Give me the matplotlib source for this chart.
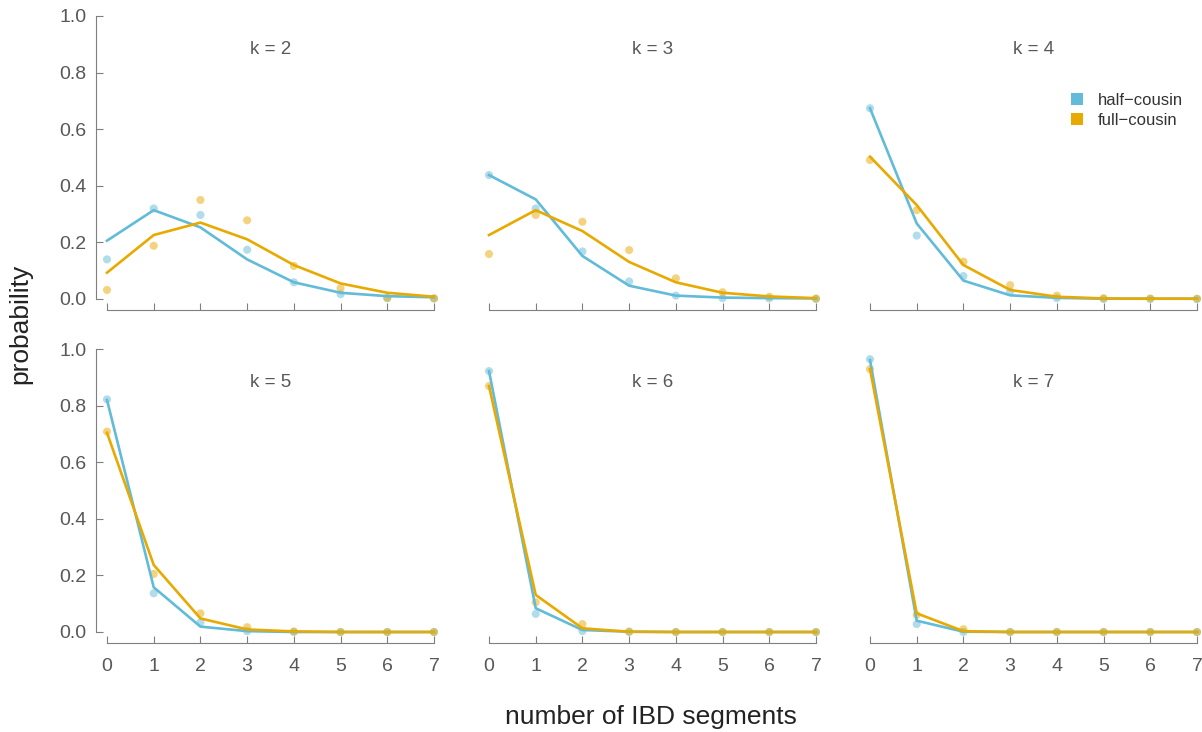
import matplotlib
matplotlib.use("Agg")
import matplotlib.pyplot as plt
from matplotlib.patches import Patch
import numpy as np

plt.rcParams["font.family"] = ["Liberation Sans", "DejaVu Sans"]

TEXT = "#585858"
SPINE = "#7f7f7f"
BLUE = "#62BBD8"
ORANGE = "#E8A900"

segments = [0, 1, 2, 3, 4, 5, 6, 7]
ks = [2, 3, 4, 5, 6, 7]

# model curves (lines)
half_line = {
    2: [0.206, 0.314, 0.253, 0.140, 0.059, 0.022, 0.010, 0.006],
    3: [0.438, 0.352, 0.152, 0.047, 0.012, 0.005, 0.003, 0.002],
    4: [0.674, 0.267, 0.065, 0.013, 0.004, 0.001, 0.001, 0.001],
    5: [0.820, 0.158, 0.019, 0.003, 0.000, 0.000, 0.000, 0.000],
    6: [0.922, 0.084, 0.007, 0.001, 0.000, 0.000, 0.000, 0.000],
    7: [0.961, 0.040, 0.001, 0.000, 0.000, 0.000, 0.000, 0.000],
}
full_line = {
    2: [0.093, 0.226, 0.270, 0.211, 0.120, 0.055, 0.022, 0.008],
    3: [0.226, 0.314, 0.240, 0.131, 0.059, 0.022, 0.009, 0.003],
    4: [0.503, 0.332, 0.120, 0.032, 0.008, 0.002, 0.001, 0.001],
    5: [0.704, 0.237, 0.048, 0.009, 0.002, 0.000, 0.000, 0.000],
    6: [0.869, 0.131, 0.013, 0.001, 0.000, 0.000, 0.000, 0.000],
    7: [0.929, 0.066, 0.003, 0.000, 0.000, 0.000, 0.000, 0.000],
}

# simulated values (dots)
half_sim = {
    2: [0.140, 0.320, 0.297, 0.174, 0.059, 0.017, 0.003, 0.002],
    3: [0.438, 0.320, 0.168, 0.062, 0.012, 0.003, 0.002, 0.000],
    4: [0.674, 0.224, 0.081, 0.026, 0.003, 0.000, 0.000, 0.000],
    5: [0.822, 0.137, 0.034, 0.003, 0.000, 0.000, 0.000, 0.000],
    6: [0.922, 0.064, 0.003, 0.000, 0.000, 0.000, 0.000, 0.000],
    7: [0.964, 0.028, 0.000, 0.000, 0.000, 0.000, 0.000, 0.000],
}
full_sim = {
    2: [0.032, 0.188, 0.350, 0.278, 0.117, 0.038, 0.004, 0.002],
    3: [0.159, 0.297, 0.273, 0.173, 0.073, 0.024, 0.008, 0.002],
    4: [0.491, 0.314, 0.132, 0.049, 0.012, 0.003, 0.002, 0.001],
    5: [0.708, 0.205, 0.066, 0.017, 0.002, 0.000, 0.000, 0.000],
    6: [0.869, 0.105, 0.028, 0.002, 0.000, 0.000, 0.000, 0.000],
    7: [0.929, 0.060, 0.010, 0.000, 0.000, 0.000, 0.000, 0.000],
}

W, H = 1202, 732
fig = plt.figure(figsize=(W / 100, H / 100), dpi=100)

col_left = [107, 489, 870]
col_w = 327
row_zero = [299, 632]
row_h = 283
OFFSET = 8  # points, ~11 px

for i, k in enumerate(ks):
    r, c = divmod(i, 3)
    ax = fig.add_axes([col_left[c] / W, 1 - row_zero[r] / H, col_w / W, row_h / H])
    ax.set_xlim(0, 7)
    ax.set_ylim(0, 1)
    ax.patch.set_visible(False)

    ax.scatter(segments, half_sim[k], s=34, color=BLUE, alpha=0.5,
               edgecolors="none", clip_on=False, zorder=2)
    ax.scatter(segments, full_sim[k], s=34, color=ORANGE, alpha=0.5,
               edgecolors="none", clip_on=False, zorder=2)
    ax.plot(segments, half_line[k], color=BLUE, lw=1.9, clip_on=False, zorder=3)
    ax.plot(segments, full_line[k], color=ORANGE, lw=1.9, clip_on=False, zorder=4)

    ax.text(3.5, 0.88, f"k = {k}", ha="center", va="center",
            fontsize=13.5, color=TEXT)

    for side in ["top", "right"]:
        ax.spines[side].set_visible(False)
    ax.spines["bottom"].set_position(("outward", OFFSET))
    ax.spines["bottom"].set_bounds(0, 7)
    ax.spines["bottom"].set_color(SPINE)
    ax.set_xticks(segments)
    ax.tick_params(axis="x", direction="in", length=5, color=SPINE,
                   labelsize=14, labelcolor=TEXT, pad=11,
                   labelbottom=(r == 1))
    if c == 0:
        ax.spines["left"].set_position(("outward", OFFSET))
        ax.spines["left"].set_bounds(0, 1)
        ax.spines["left"].set_color(SPINE)
        ax.set_yticks([0, 0.2, 0.4, 0.6, 0.8, 1.0])
        ax.set_yticklabels(["0.0", "0.2", "0.4", "0.6", "0.8", "1.0"])
        ax.tick_params(axis="y", direction="in", length=5, color=SPINE,
                       labelsize=14, labelcolor=TEXT, pad=7)
    else:
        ax.spines["left"].set_visible(False)
        ax.set_yticks([])

handles = [Patch(facecolor=BLUE, edgecolor="none", label="half\u2212cousin"),
           Patch(facecolor=ORANGE, edgecolor="none", label="full\u2212cousin")]
fig.legend(handles=handles, loc="upper left", bbox_to_anchor=(1056 / W, 1 - 78 / H),
           frameon=False, fontsize=12, labelcolor="#333333", handlelength=0.7,
           handleheight=0.7, handletextpad=0.9, labelspacing=0.3)

fig.text(20 / W, 1 - 324 / H, "probability", rotation=90, ha="center",
         va="center", fontsize=19, color="#222222")
fig.text(651 / W, 1 - 717 / H, "number of IBD segments", ha="center",
         va="center", fontsize=19, color="#222222")

fig.savefig("out.png", dpi=100)
